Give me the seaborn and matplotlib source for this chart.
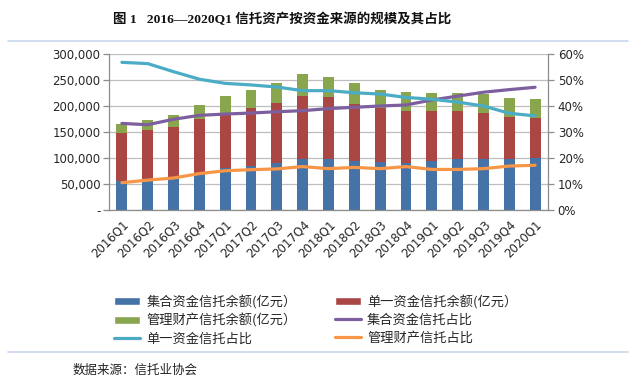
import matplotlib
matplotlib.use("Agg")
import matplotlib.pyplot as plt
import seaborn as sns
import numpy as np
import pandas as pd
from matplotlib.patches import Patch
from matplotlib.lines import Line2D
from matplotlib.ticker import FuncFormatter

quarters = ["2016Q1", "2016Q2", "2016Q3", "2016Q4", "2017Q1", "2017Q2", "2017Q3", "2017Q4",
            "2018Q1", "2018Q2", "2018Q3", "2018Q4", "2019Q1", "2019Q2", "2019Q3", "2019Q4", "2020Q1"]
# 亿元
collective = [55100, 57700, 59000, 67300, 80000, 84600, 90400, 98700,
              99000, 94900, 93000, 89700, 94900, 98000, 98700, 98700, 100600]
single = [93600, 96100, 101000, 107700, 104600, 110900, 116000, 120300,
          117700, 108900, 102500, 100000, 95500, 92400, 87200, 80800, 77000]
managed = [16700, 19200, 22000, 27000, 34400, 35300, 37200, 42500,
           39700, 39800, 35300, 37200, 35200, 35200, 36500, 36500, 35900]
# 占比 (%)
collective_pct = [33.3, 32.8, 34.9, 36.4, 36.9, 37.3, 37.8, 38.2, 39.0, 39.5, 40.0, 40.4, 42.3, 43.8, 45.3, 46.3, 47.2]
single_pct = [56.8, 56.3, 53.2, 50.3, 48.7, 48.1, 47.3, 45.9, 45.9, 45.1, 44.6, 43.3, 42.6, 41.5, 40.0, 37.2, 36.2]
managed_pct = [10.5, 11.5, 12.3, 14.0, 15.1, 15.5, 15.8, 16.7, 15.9, 16.4, 15.9, 16.7, 15.6, 15.6, 15.9, 16.9, 17.2]

legend_labels = ["集合资金信托余额(亿元）", "单一资金信托余额(亿元）", "管理财产信托余额(亿元）",
                 "集合资金信托占比", "单一资金信托占比", "管理财产信托占比"]
title = "图 1   2016—2020Q1 信托资产按资金来源的规模及其占比"
source = "数据来源：信托业协会"

c_blue, c_red, c_green = "#4572A7", "#AA4643", "#89A54E"
c_purple, c_cyan, c_orange = "#7D5FA0", "#4BACC6", "#F79646"

sns.set_style("white")
plt.rcParams["font.family"] = ["Noto Sans CJK SC", "DejaVu Sans"]

fig = plt.figure(figsize=(6.39, 3.86), dpi=100)
ax = fig.add_axes([109 / 639, 1 - 210 / 386, (548 - 109) / 639, (210 - 54) / 386])

df = pd.DataFrame({"q": quarters, "a": collective, "b": single, "c": managed})
df["ab"] = df["a"] + df["b"]
df["abc"] = df["ab"] + df["c"]

bw = 0.42
sns.barplot(data=df, x="q", y="abc", color=c_green, width=bw, saturation=1, ax=ax, edgecolor="none", zorder=2)
sns.barplot(data=df, x="q", y="ab", color=c_red, width=bw, saturation=1, ax=ax, edgecolor="none", zorder=2)
sns.barplot(data=df, x="q", y="a", color=c_blue, width=bw, saturation=1, ax=ax, edgecolor="none", zorder=2)

ax.set_xlim(-0.5, len(quarters) - 0.5)
ax.set_ylim(0, 300000)
ax.set_yticks(np.arange(0, 300001, 50000))
ax.yaxis.set_major_formatter(FuncFormatter(lambda v, p: "-" if v == 0 else f"{int(v):,}"))
ax.set_xlabel("")
ax.set_ylabel("")
ax.grid(axis="y", color="#BEBEBE", linewidth=0.9, zorder=0)
ax.set_axisbelow(True)
for s in ["top", "right"]:
    ax.spines[s].set_visible(False)
for s in ["left", "bottom"]:
    ax.spines[s].set_color("#8C8C8C")
    ax.spines[s].set_linewidth(0.9)

ax.set_xticks(np.arange(len(quarters)))
ax.set_xticklabels(quarters, rotation=45, ha="right", va="top", rotation_mode="anchor",
                   fontsize=8.5, family="DejaVu Sans")
ax.tick_params(axis="x", length=0, pad=6)
ax.set_xticks(np.arange(-0.5, len(quarters), 1), minor=True)
ax.tick_params(axis="x", which="minor", length=4, color="#8C8C8C", width=0.9, direction="out")
ax.tick_params(axis="y", length=4, color="#8C8C8C", width=0.9, direction="out", pad=2, labelsize=8.5)
for t in ax.get_yticklabels():
    t.set_family("DejaVu Sans")

ax2 = ax.twinx()
xpos = np.arange(len(quarters))
lw = 2.3
sns.lineplot(x=xpos, y=collective_pct, ax=ax2, color=c_purple, linewidth=lw)
sns.lineplot(x=xpos, y=single_pct, ax=ax2, color=c_cyan, linewidth=lw)
sns.lineplot(x=xpos, y=managed_pct, ax=ax2, color=c_orange, linewidth=lw)
ax2.set_ylim(0, 60)
ax2.set_yticks(np.arange(0, 61, 10))
ax2.yaxis.set_major_formatter(FuncFormatter(lambda v, p: f"{int(v)}%"))
ax2.set_xlim(-0.5, len(quarters) - 0.5)
ax2.set_ylabel("")
for s in ["top", "left", "bottom"]:
    ax2.spines[s].set_visible(False)
ax2.spines["right"].set_color("#8C8C8C")
ax2.spines["right"].set_linewidth(0.9)
ax2.tick_params(axis="y", length=4, color="#8C8C8C", width=0.9, direction="out", pad=3, labelsize=8.5)
for t in ax2.get_yticklabels():
    t.set_family("DejaVu Sans")

handles = [Patch(facecolor=c_blue), Patch(facecolor=c_red), Patch(facecolor=c_green),
           Line2D([], [], color=c_purple, linewidth=2.3), Line2D([], [], color=c_cyan, linewidth=2.3),
           Line2D([], [], color=c_orange, linewidth=2.3)]
order = [0, 2, 4, 1, 3, 5]
fig.legend([handles[i] for i in order], [legend_labels[i] for i in order],
           ncol=2, loc="upper left", bbox_to_anchor=(102 / 639, 1 - 283 / 386),
           frameon=False, fontsize=9.5, handlelength=2.0, handleheight=0.55,
           columnspacing=2.9, labelspacing=0.35, handletextpad=0.45)

fig.text(282 / 639, 1 - 19 / 386, title, ha="center", va="center", fontsize=9.7, fontweight="bold",
         family=["Liberation Serif", "Noto Sans CJK SC"], color="#111111")
fig.add_artist(Line2D([8 / 639, 628 / 639], [1 - 41 / 386, 1 - 41 / 386], color="#C9D8EC", linewidth=1.2))
fig.add_artist(Line2D([8 / 639, 628 / 639], [1 - 352 / 386, 1 - 352 / 386], color="#C9D8EC", linewidth=1.2))
fig.text(73 / 639, 1 - 370 / 386, source, ha="left", va="center", fontsize=9, color="#222222")

fig.savefig("out.png", dpi=100)
